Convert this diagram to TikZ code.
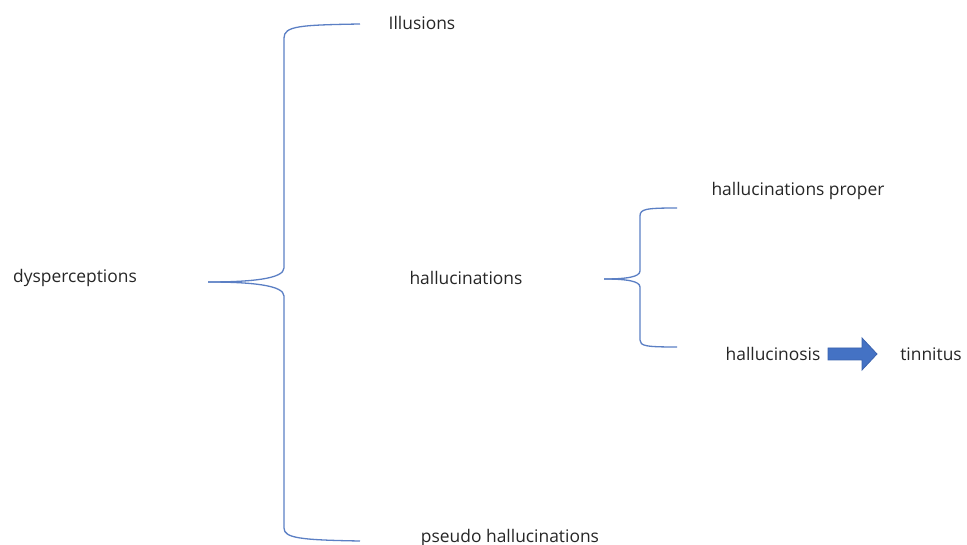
\documentclass[tikz,border=0pt]{standalone}
\usepackage{fontspec}
\setmainfont{Open Sans}
\definecolor{brace}{HTML}{5B7FC4}
\definecolor{arrowfill}{HTML}{4472C4}
\definecolor{arrowline}{HTML}{3A62AE}
\definecolor{txt}{HTML}{262626}
\begin{document}
\begin{tikzpicture}[x=1pt,y=-1pt,
  lbl/.style={inner sep=0pt,text=txt,font=\fontsize{17.4}{19}\selectfont},
  bracepath/.style={draw=brace,line width=1.3pt},
  bigarrow/.style={fill=arrowfill,draw=arrowline,line width=0.8pt}]
\useasboundingbox (0,0) rectangle (967,545);
\node[lbl] (dys) at (75,278) {dysperceptions};
\node[lbl] (ill) at (422,23) {Illusions};
\node[lbl] (hal) at (466,278) {hallucinations};
\node[lbl,anchor=base] (pse) at (510,542) {pseudo hallucinations};
\node[lbl] (hp) at (798,191) {hallucinations proper};
\node[lbl] (hs) at (773,354) {hallucinosis};
\node[lbl] (tin) at (931,354) {tinnitus};
% big brace
\coordinate (b1tip) at (208,282);
\coordinate (b1top) at (360,24);
\coordinate (b1bot) at (360,541);
\draw[bracepath] (b1top) .. controls (300,25) and (284,26) .. (284,38) -- (284,268)
  .. controls (284,279) and (250,282) .. (b1tip);
\draw[bracepath] (b1tip) .. controls (250,282) and (284,285) .. (284,296) -- (284,528)
  .. controls (284,538) and (300,540) .. (b1bot);
% small brace
\coordinate (b2tip) at (604,279);
\coordinate (b2top) at (677,208);
\coordinate (b2bot) at (677,347);
\draw[bracepath] (b2top) .. controls (646,208) and (640,209) .. (640,216) -- (640,271)
  .. controls (640,277) and (626,279) .. (b2tip);
\draw[bracepath] (b2tip) .. controls (626,279) and (640,281) .. (640,287) -- (640,340)
  .. controls (640,346) and (646,347) .. (b2bot);
% arrow
\draw[bigarrow] (828,348) -- (862,348) -- (862,338) -- (877,354) -- (862,370) -- (862,360) -- (828,360) -- cycle;
\end{tikzpicture}
\end{document}
